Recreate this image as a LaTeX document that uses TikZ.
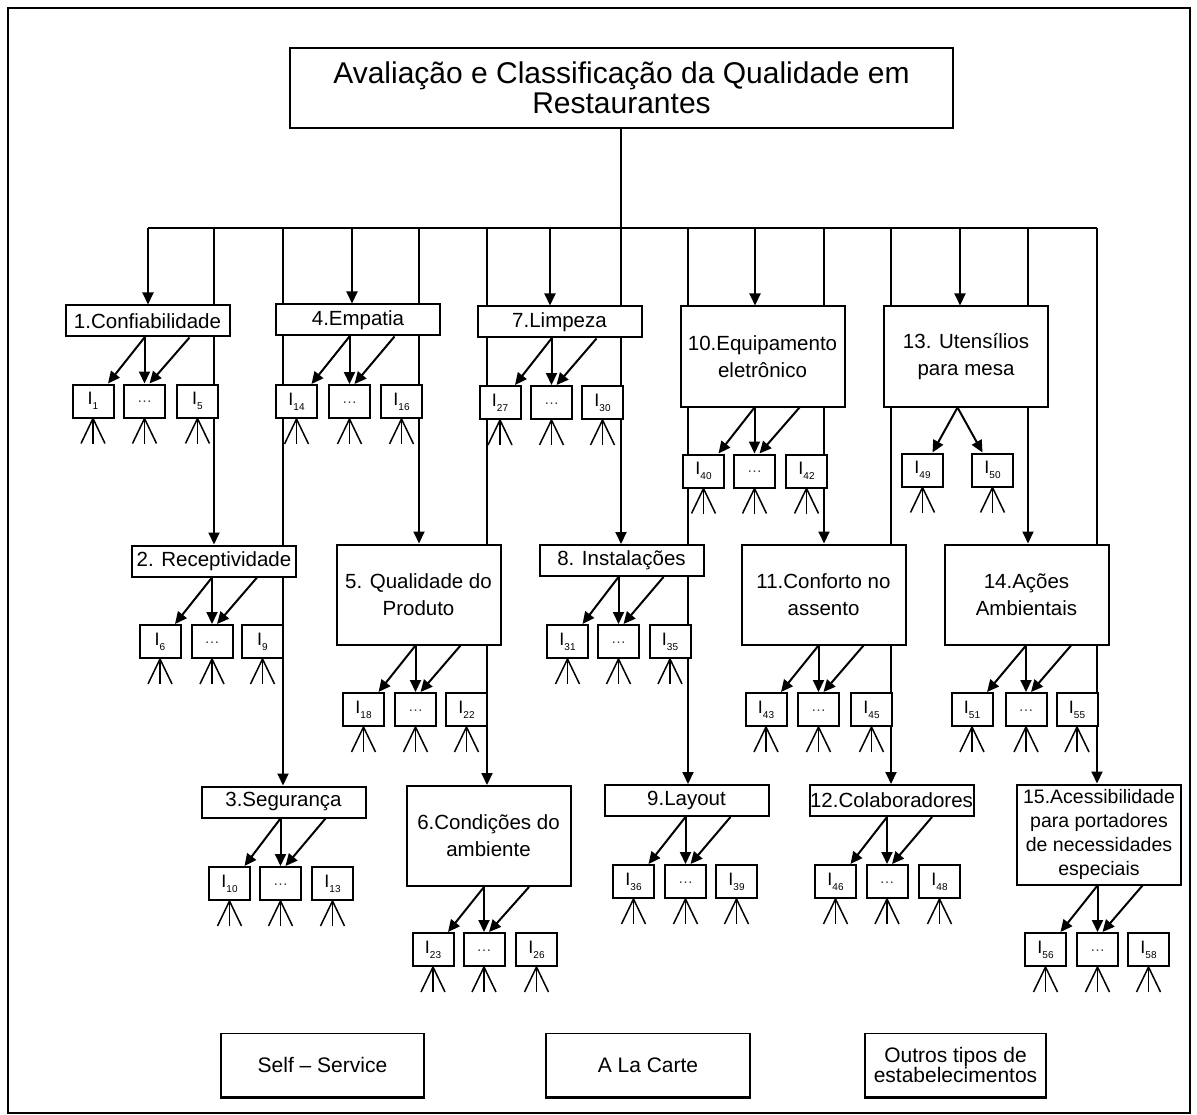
\documentclass[tikz,border=0pt]{standalone}
\usepackage{fontspec}
\setmainfont{Liberation Sans}
\usetikzlibrary{arrows.meta,calc}
\pgfdeclarelayer{bg}
\pgfsetlayers{bg,main}

% indicator label: I with a lowered index
\newcommand\indlab[1]{I\raisebox{-0.28em}{\fontsize{10}{10}\selectfont #1}}
\newcommand\dotsym{\raisebox{-3pt}{\color{black!75}\fontsize{15}{15}\selectfont …}}

% a row of three indicator boxes
\newcommand\indrow[7]{%
  \node[ind] (#1a) at (#3,#2) {\indlab{#6}};
  \node[ind] (#1b) at (#4,#2) {\dotsym};
  \node[ind] (#1c) at (#5,#2) {\indlab{#7}};
}
% three arrows from a criterion box to its indicator row
\newcommand\fan[2]{%
  \coordinate (#2o) at (#2b.north |- #1.south);
  \draw[arr] (#2o) -- (#2b.north);
  \draw[arr] (#2o) -- ($(#2a.north)+(15,0)$);
  \draw[arr] ($(#2o)+(45,0)$) -- ($(#2b.north)+(5,0)$);
}
% the three legs under an indicator box
\newcommand\legs[1]{%
  \draw[leg] (#1.south) -- ++(-12,25);
  \draw[leg] (#1.south) -- ++(0,25);
  \draw[leg] (#1.south) -- ++(12,25);
}
\newcommand\legrow[1]{\legs{#1a}\legs{#1b}\legs{#1c}}

\begin{document}
\begin{tikzpicture}[x=1pt,y=-1pt,
  cat/.style={draw, line width=2pt, fill=white, minimum width=164pt,
    inner sep=0pt, align=center, font=\fontsize{20.5}{27}\selectfont},
  one/.style={cat, minimum height=31pt},
  two/.style={cat, minimum height=100pt},
  ind/.style={draw, line width=2pt, fill=white, minimum width=41pt,
    minimum height=33pt, inner sep=0pt, font=\fontsize{18}{18}\selectfont},
  base/.style={draw, line width=1.6pt, fill=white, minimum height=63pt,
    inner sep=0pt, align=center, font=\fontsize{21}{20}\selectfont},
  link/.style={line width=2pt},
  arr/.style={line width=2pt, -{Triangle[length=12pt,width=11pt]}},
  leg/.style={line width=1.5pt}
]
\useasboundingbox (0,0) rectangle (1197,1115);
\draw[line width=1.5pt] (8,8) rectangle (1190,1113);

% title
\node[draw, line width=2pt, fill=white, minimum width=663pt, minimum height=80pt,
  inner sep=0pt, align=center, font=\fontsize{30}{30}\selectfont]
  (title) at (621.5,88) {Avaliação e Classificação da Qualidade em\\Restaurantes};

% criteria, top row
\node[one] (b1)  at (147.5,321) {1.Confiabilidade};
\node[one] (b4)  at (358,320)   {4.Empatia};
\node[one] (b7)  at (559.5,322) {7.Limpeza};
\node[two] (b10) at (762.5,356.5) {10.Equipamento\\eletrônico};
\node[two] (b13) at (966,356.5) {13. Utensílios\\para mesa};
% middle row
\node[one] (b2)  at (214,561)     {2. Receptividade};
\node[two] (b5)  at (418.5,594.5) {5. Qualidade do\\Produto};
\node[one] (b8)  at (621.5,560.5) {8. Instalações};
\node[two] (b11) at (823.5,594.5) {11.Conforto no\\assento};
\node[two] (b14) at (1026.5,594.5) {14.Ações\\Ambientais};
% bottom row
\node[one] (b3)  at (283.5,802)   {3.Segurança};
\node[two] (b6)  at (488.5,836)   {6.Condições do\\ambiente};
\node[one] (b9)  at (686.5,800.5) {9.Layout};
\node[one] (b12) at (891.5,800.5) {12.Colaboradores};
\node[two, font=\fontsize{19.5}{24}\selectfont] (b15) at (1099,834.5)
  {15.Acessibilidade\\para portadores\\de necessidades\\especiais};

% indicator rows
\indrow{g1}{401}{93}{144.5}{197.5}{1}{5}
\indrow{g4}{401.5}{296.5}{349.5}{401.5}{14}{16}
\indrow{g7}{402.5}{500}{551.5}{602.5}{27}{30}
\indrow{g10}{471}{703.5}{754.5}{806.5}{40}{42}
\indrow{g2}{641.5}{160}{212}{262.5}{6}{9}
\indrow{g5}{709.5}{363.5}{415.5}{466.5}{18}{22}
\indrow{g8}{641.5}{567.5}{618.5}{670}{31}{35}
\indrow{g11}{709.5}{766}{818.5}{871.5}{43}{45}
\indrow{g14}{709.5}{972}{1026}{1077}{51}{55}
\indrow{g3}{883.5}{229.5}{280.5}{332.5}{10}{13}
\indrow{g6}{949.5}{433}{484}{536.5}{23}{26}
\indrow{g9}{881.5}{633.5}{685.5}{736.5}{36}{39}
\indrow{g12}{881.5}{835.5}{887}{939.5}{46}{48}
\indrow{g15}{949.5}{1045.5}{1097.5}{1148.5}{56}{58}
\node[ind] (g13a) at (922.5,470) {\indlab{49}};
\node[ind] (g13b) at (992.5,470) {\indlab{50}};

% establishment types
\node[base, minimum width=203pt] (s1) at (322.5,1065) {Self – Service};
\node[base, minimum width=204pt] (s2) at (648,1065) {A La Carte};
\node[base, minimum width=181pt] (s3) at (955.5,1065) {Outros tipos de\\estabelecimentos};
\foreach \s in {s1,s2,s3}
  \draw[line width=3pt] (\s.south west) -- (\s.south east);

% distribution bus and trunks (behind the boxes)
\begin{pgfonlayer}{bg}
  \fill[white] (0,0) rectangle (1197,1115);
  \coordinate (t1)  at (148,228);
  \coordinate (t2)  at (214,228);
  \coordinate (t3)  at (283,228);
  \coordinate (t4)  at (352,228);
  \coordinate (t5)  at (419,228);
  \coordinate (t6)  at (487,228);
  \coordinate (t7)  at (550,228);
  \coordinate (t8)  at (621,228);
  \coordinate (t9)  at (688,228);
  \coordinate (t10) at (755,228);
  \coordinate (t11) at (824,228);
  \coordinate (t12) at (891,228);
  \coordinate (t13) at (960,228);
  \coordinate (t14) at (1028,228);
  \coordinate (t15) at (1097,228);
  \draw[link] (title.south -| t8) -- (t8);
  \draw[link] (t1) -- (t15);
  \draw[arr] (t1)  -- (t1 |- b1.north);
  \draw[arr] (t2)  -- (t2 |- b2.north);
  \draw[arr] (t3)  -- (t3 |- b3.north);
  \draw[arr] (t4)  -- (t4 |- b4.north);
  \draw[arr] (t5)  -- (t5 |- b5.north);
  \draw[arr] (t6)  -- (t6 |- b6.north);
  \draw[arr] (t7)  -- (t7 |- b7.north);
  \draw[arr] (t8)  -- (t8 |- b8.north);
  \draw[arr] (t9)  -- (t9 |- b9.north);
  \draw[arr] (t10) -- (t10 |- b10.north);
  \draw[arr] (t11) -- (t11 |- b11.north);
  \draw[arr] (t12) -- (t12 |- b12.north);
  \draw[arr] (t13) -- (t13 |- b13.north);
  \draw[arr] (t14) -- (t14 |- b14.north);
  \draw[arr] (t15) -- (t15 |- b15.north);
  % legs under the indicators
  \foreach \g in {g1,g2,g3,g4,g5,g6,g7,g8,g9,g10,g11,g12,g14,g15}
    {\legrow{\g}}
  \legs{g13a}\legs{g13b}
\end{pgfonlayer}

% criterion to indicator arrows
\fan{b1}{g1}
\fan{b2}{g2}
\fan{b3}{g3}
\fan{b4}{g4}
\fan{b5}{g5}
\fan{b6}{g6}
\fan{b7}{g7}
\fan{b8}{g8}
\fan{b9}{g9}
\fan{b10}{g10}
\fan{b11}{g11}
\fan{b12}{g12}
\fan{b14}{g14}
\fan{b15}{g15}
\coordinate (g13o) at ($(g13a.north)!0.5!(g13b.north)$);
\coordinate (g13p) at (g13o |- b13.south);
\draw[arr] (g13p) -- ($(g13a.north)+(10,0)$);
\draw[arr] (g13p) -- ($(g13b.north)+(-10,0)$);
\end{tikzpicture}
\end{document}
